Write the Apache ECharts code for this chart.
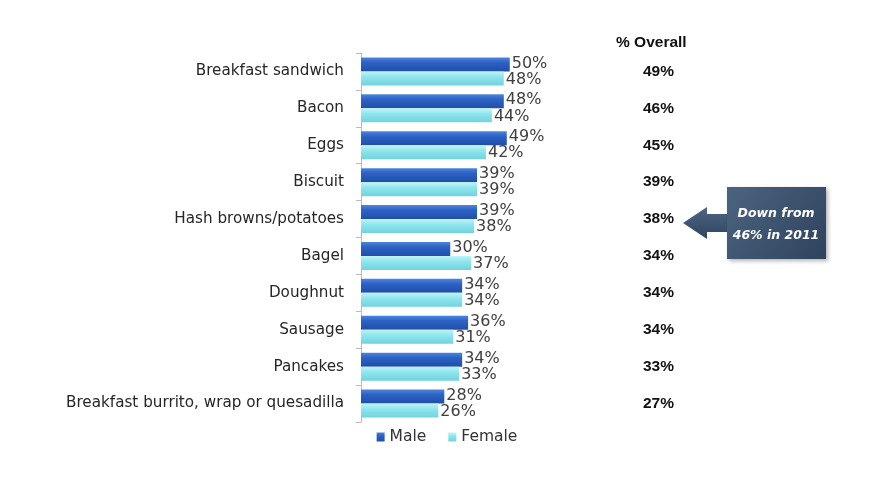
<!DOCTYPE html>
<html><head><meta charset="utf-8">
<script src="https://cdn.jsdelivr.net/npm/echarts@6/dist/echarts.min.js"></script>
<style>html,body{margin:0;padding:0;background:#fff}#c{width:894px;height:481px}</style>
</head><body><div id="c"></div>
<script>
const categories = ["Breakfast sandwich","Bacon","Eggs","Biscuit","Hash browns/potatoes","Bagel","Doughnut","Sausage","Pancakes","Breakfast burrito, wrap or quesadilla"];
const male = [50,48,49,39,39,30,34,36,34,28];
const female = [48,44,42,39,38,37,34,31,33,26];
const overall = [49,46,45,39,38,34,34,34,33,27];
const seriesNames = ["Male","Female"];

const chart = echarts.init(document.getElementById('c'));
const font = '"DejaVu Sans", "Liberation Sans", sans-serif';
const boldFont = '"Liberation Sans", Arial, sans-serif';
const grid = {left:361, top:53, width:238, height:369};
chart.setOption({
  animation:false,
  textStyle:{fontFamily:font},
  title:{text:'% Overall', left:611, top:30, textStyle:{fontSize:15.5, fontWeight:'bold', color:'#111', fontFamily:boldFont}},
  grid: grid,
  legend:{data:seriesNames, bottom:31, left:'center', itemWidth:8, itemHeight:9, itemGap:22,
    icon:'rect', textStyle:{fontSize:15.5, color:'#333', fontFamily:font}},
  xAxis:{type:'value', min:0, max:80, show:false},
  yAxis:[
    {type:'category', data:categories, inverse:true,
     axisLine:{show:true, lineStyle:{color:'#bbb'}},
     axisTick:{show:true, length:5, lineStyle:{color:'#bbb'}},
     axisLabel:{fontSize:15.2, color:'#262626', margin:17, fontFamily:font}},
    {type:'category', data:categories, inverse:true, position:'right',
     axisLine:{show:false}, axisTick:{show:false},
     axisLabel:{margin:44, fontSize:15.5, fontWeight:'bold', color:'#111', fontFamily:boldFont,
       formatter:(v, i)=> overall[i] + '%'}}
  ],
  series:[
    {name:seriesNames[0], type:'bar', data:male, barGap:'0%', barCategoryGap:'24%',
     itemStyle:{color:new echarts.graphic.LinearGradient(0,0,0,1,[{offset:0,color:'#4d86de'},{offset:0.35,color:'#2d63c6'},{offset:1,color:'#1f4ea8'}])},
     label:{show:true, position:'right', distance:2, offset:[0,-1], formatter:'{c}%', fontSize:16, color:'#404040', fontFamily:font}},
    {name:seriesNames[1], type:'bar', data:female,
     itemStyle:{color:new echarts.graphic.LinearGradient(0,0,0,1,[{offset:0,color:'#c0f5f8'},{offset:0.4,color:'#8ee5ee'},{offset:1,color:'#72d2de'}])},
     label:{show:true, position:'right', distance:2, offset:[0,1], formatter:'{c}%', fontSize:16, color:'#404040', fontFamily:font}}
  ],
  graphic:[
    {type:'polygon', shape:{points:[[683,223],[707,207],[707,214],[727,214],[727,232],[707,232],[707,239]]},
     style:{fill:new echarts.graphic.LinearGradient(0,0,0,1,[{offset:0,color:'#4d6682'},{offset:1,color:'#2f4560'}])}},
    {type:'rect', shape:{x:727, y:187, width:99, height:72},
     style:{fill:new echarts.graphic.LinearGradient(0,0,1,1,[{offset:0,color:'#4b6480'},{offset:1,color:'#2e435d'}]), shadowBlur:4, shadowColor:'rgba(0,0,0,0.3)', shadowOffsetX:2, shadowOffsetY:2}},
    {type:'text', x:776, y:214, style:{text:'Down from', fill:'#fff', font:'italic bold 12.5px '+font, align:'center', verticalAlign:'middle'}},
    {type:'text', x:776, y:236, style:{text:'46% in 2011', fill:'#fff', font:'italic bold 12.5px '+font, align:'center', verticalAlign:'middle'}}
  ]
});
</script></body></html>
